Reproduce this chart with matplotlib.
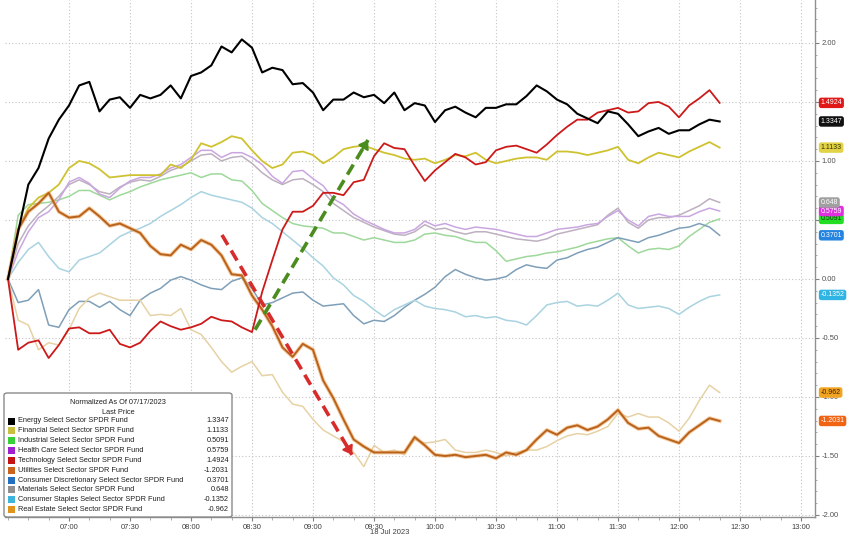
import numpy as np
import matplotlib
matplotlib.use("Agg")
import matplotlib.pyplot as plt
from matplotlib.patches import FancyBboxPatch, Rectangle
from matplotlib.ticker import FixedLocator, FuncFormatter, MultipleLocator

plt.rcParams['font.family'] = ['Liberation Sans', 'DejaVu Sans']

# ---------------- data (normalized % change, 5-minute samples from 06:30) ----------------
START_HOUR = 6.5
STEP_MIN = 5

energy = [0.00, 0.40, 0.80, 0.94, 1.19, 1.35, 1.47, 1.64, 1.67, 1.42,
          1.52, 1.54, 1.45, 1.56, 1.53, 1.56, 1.64, 1.53, 1.72, 1.75,
          1.81, 1.97, 1.92, 2.03, 1.96, 1.75, 1.79, 1.77, 1.65, 1.66,
          1.58, 1.43, 1.52, 1.52, 1.58, 1.54, 1.56, 1.49, 1.58, 1.43,
          1.49, 1.47, 1.33, 1.43, 1.46, 1.41, 1.37, 1.45, 1.45, 1.48,
          1.48, 1.55, 1.64, 1.59, 1.52, 1.48, 1.40, 1.36, 1.32, 1.42,
          1.40, 1.31, 1.21, 1.25, 1.28, 1.23, 1.26, 1.26, 1.31, 1.35, 1.3347]
financial = [0.00, 0.42, 0.60, 0.69, 0.73, 0.80, 0.94, 1.00, 0.98, 0.93,
             0.86, 0.87, 0.88, 0.88, 0.88, 0.88, 0.97, 0.94, 1.01, 1.15,
             1.12, 1.16, 1.21, 1.19, 1.09, 1.00, 0.94, 0.97, 1.07, 1.08,
             1.05, 0.98, 1.03, 1.10, 1.12, 1.13, 1.10, 1.07, 1.05, 1.02,
             1.01, 1.02, 0.98, 1.01, 1.05, 1.04, 1.07, 1.01, 0.98, 1.00,
             1.02, 1.03, 1.03, 1.01, 1.08, 1.08, 1.07, 1.05, 1.07, 1.09,
             1.12, 1.01, 0.98, 1.03, 1.07, 1.05, 1.03, 1.08, 1.12, 1.16, 1.1133]
industrial = [0.00, 0.54, 0.63, 0.64, 0.65, 0.67, 0.70, 0.75, 0.75, 0.71,
              0.67, 0.71, 0.74, 0.78, 0.81, 0.84, 0.86, 0.88, 0.90, 0.86,
              0.89, 0.89, 0.84, 0.83, 0.75, 0.64, 0.58, 0.52, 0.47, 0.45,
              0.44, 0.43, 0.39, 0.39, 0.36, 0.33, 0.35, 0.33, 0.31, 0.31,
              0.33, 0.38, 0.39, 0.37, 0.36, 0.33, 0.31, 0.31, 0.24, 0.15,
              0.17, 0.19, 0.20, 0.22, 0.23, 0.25, 0.27, 0.30, 0.32, 0.34,
              0.35, 0.28, 0.22, 0.25, 0.26, 0.25, 0.28, 0.36, 0.42, 0.48, 0.5091]
health_care = [0.00, 0.23, 0.40, 0.52, 0.57, 0.67, 0.82, 0.86, 0.81, 0.72,
               0.69, 0.77, 0.83, 0.86, 0.86, 0.89, 0.94, 0.97, 1.03, 1.09,
               1.09, 1.03, 1.07, 1.07, 1.03, 0.97, 0.87, 0.81, 0.91, 0.92,
               0.85, 0.79, 0.68, 0.63, 0.55, 0.50, 0.46, 0.42, 0.39, 0.39,
               0.42, 0.49, 0.45, 0.47, 0.44, 0.42, 0.44, 0.43, 0.42, 0.40,
               0.38, 0.36, 0.36, 0.39, 0.42, 0.43, 0.44, 0.46, 0.47, 0.53,
               0.58, 0.50, 0.45, 0.53, 0.55, 0.53, 0.53, 0.53, 0.57, 0.60, 0.5759]
technology = [0.00, -0.60, -0.54, -0.52, -0.67, -0.56, -0.42, -0.41, -0.46, -0.46,
              -0.43, -0.55, -0.58, -0.54, -0.44, -0.36, -0.40, -0.43, -0.41, -0.38,
              -0.32, -0.35, -0.36, -0.41, -0.45, -0.11, 0.16, 0.42, 0.57, 0.57,
              0.62, 0.73, 0.73, 0.71, 0.82, 0.84, 1.04, 1.15, 1.11, 1.10,
              0.96, 0.83, 0.92, 0.99, 1.06, 1.03, 0.97, 0.99, 1.09, 1.12,
              1.13, 1.10, 1.07, 1.14, 1.22, 1.29, 1.35, 1.35, 1.41, 1.43,
              1.45, 1.41, 1.42, 1.49, 1.50, 1.46, 1.37, 1.47, 1.53, 1.60, 1.4924]
utilities = [0.00, 0.42, 0.57, 0.64, 0.73, 0.57, 0.52, 0.53, 0.60, 0.53,
             0.45, 0.47, 0.43, 0.39, 0.28, 0.21, 0.20, 0.29, 0.25, 0.33,
             0.29, 0.20, 0.04, 0.03, -0.14, -0.26, -0.40, -0.58, -0.66, -0.55,
             -0.60, -0.86, -1.01, -1.19, -1.36, -1.42, -1.47, -1.47, -1.47, -1.47,
             -1.34, -1.41, -1.49, -1.50, -1.49, -1.51, -1.50, -1.49, -1.52, -1.47,
             -1.49, -1.45, -1.36, -1.28, -1.32, -1.26, -1.24, -1.28, -1.25, -1.19,
             -1.11, -1.22, -1.27, -1.26, -1.33, -1.36, -1.39, -1.30, -1.24, -1.18, -1.2031]
cons_discretionary = [0.00, -0.20, -0.18, -0.09, -0.39, -0.41, -0.26, -0.19, -0.19, -0.24,
                      -0.19, -0.26, -0.31, -0.18, -0.12, -0.08, -0.01, 0.02, -0.01, -0.05,
                      -0.08, -0.09, -0.02, 0.01, -0.08, -0.22, -0.20, -0.16, -0.12, -0.11,
                      -0.18, -0.23, -0.22, -0.21, -0.31, -0.38, -0.35, -0.36, -0.31, -0.24,
                      -0.18, -0.13, -0.07, 0.02, 0.08, 0.04, 0.01, -0.01, 0.00, 0.02,
                      0.08, 0.12, 0.10, 0.09, 0.16, 0.18, 0.22, 0.25, 0.27, 0.31,
                      0.35, 0.33, 0.31, 0.35, 0.37, 0.40, 0.43, 0.44, 0.47, 0.44, 0.3701]
materials = [0.00, 0.30, 0.45, 0.55, 0.62, 0.70, 0.80, 0.84, 0.80, 0.74,
             0.72, 0.78, 0.82, 0.84, 0.83, 0.87, 0.92, 0.95, 1.00, 1.05,
             1.06, 1.00, 1.03, 1.04, 0.98, 0.90, 0.84, 0.80, 0.84, 0.85,
             0.80, 0.74, 0.64, 0.58, 0.52, 0.48, 0.44, 0.41, 0.38, 0.37,
             0.40, 0.46, 0.42, 0.43, 0.40, 0.38, 0.40, 0.40, 0.38, 0.36,
             0.34, 0.33, 0.32, 0.34, 0.38, 0.40, 0.42, 0.44, 0.46, 0.54,
             0.60, 0.48, 0.43, 0.50, 0.52, 0.52, 0.54, 0.58, 0.62, 0.68, 0.648]
cons_staples = [0.00, 0.14, 0.25, 0.31, 0.19, 0.09, 0.06, 0.16, 0.19, 0.22,
                0.29, 0.36, 0.40, 0.43, 0.47, 0.53, 0.58, 0.63, 0.69, 0.74,
                0.71, 0.69, 0.67, 0.65, 0.60, 0.52, 0.47, 0.40, 0.33, 0.26,
                0.18, 0.11, 0.01, -0.05, -0.14, -0.19, -0.26, -0.32, -0.26, -0.22,
                -0.18, -0.23, -0.25, -0.26, -0.28, -0.32, -0.31, -0.33, -0.32, -0.35,
                -0.36, -0.39, -0.31, -0.22, -0.20, -0.19, -0.23, -0.22, -0.23, -0.18,
                -0.12, -0.22, -0.25, -0.24, -0.23, -0.25, -0.30, -0.24, -0.19, -0.15, -0.1352]
real_estate = [0.00, -0.35, -0.39, -0.60, -0.54, -0.56, -0.43, -0.25, -0.16, -0.12,
               -0.15, -0.18, -0.18, -0.18, -0.31, -0.30, -0.31, -0.25, -0.43, -0.47,
               -0.58, -0.70, -0.79, -0.74, -0.70, -0.82, -0.81, -0.96, -1.06, -1.08,
               -1.19, -1.28, -1.33, -1.38, -1.47, -1.59, -1.41, -1.47, -1.45, -1.49,
               -1.36, -1.39, -1.38, -1.36, -1.45, -1.47, -1.47, -1.45, -1.47, -1.50,
               -1.47, -1.45, -1.45, -1.42, -1.37, -1.33, -1.31, -1.32, -1.29, -1.25,
               -1.14, -1.17, -1.14, -1.17, -1.17, -1.22, -1.29, -1.18, -1.03, -0.90, -0.962]

names = ["Energy Select Sector SPDR Fund", "Financial Select Sector SPDR Fund",
         "Industrial Select Sector SPDR Fund", "Health Care Select Sector SPDR Fund",
         "Technology Select Sector SPDR Fund", "Utilities Select Sector SPDR Fund",
         "Consumer Discretionary Select Sector SPDR Fund", "Materials Select Sector SPDR Fund",
         "Consumer Staples Select Sector SPDR Fund", "Real Estate Select Sector SPDR Fund"]
last_labels = ["1.3347", "1.1133", "0.5091", "0.5759", "1.4924", "-1.2031",
               "0.3701", "0.648", "-0.1352", "-0.962"]
series = [energy, financial, industrial, health_care, technology, utilities,
          cons_discretionary, materials, cons_staples, real_estate]
# right-axis labels hidden behind last-price tags in the original
hidden_ticks = [1.5, 0.5]

# styles
line_colors = ["#000000", "#cfc230", "#9ed89a", "#caa6e0", "#cc1a1a", "#b8621c",
               "#7f9fb8", "#bdb0bf", "#a9d3e0", "#e6d2a4"]
line_widths = [1.5, 1.3, 1.1, 1.1, 1.3, 1.4, 1.1, 1.1, 1.1, 1.1]
z_order = [10, 7, 3, 4, 9, 8, 3, 3, 3, 5]
legend_colors = ["#000000", "#c9c040", "#38d038", "#a020d0", "#c41414", "#c8641e",
                 "#2470c0", "#909090", "#3cb4dc", "#e0941e"]
tag_colors = ["#111111", "#e2d246", "#22dd22", "#e030e0", "#e01818", "#f06414",
              "#2484e0", "#a0a0a0", "#30b4e4", "#f0a422"]
tag_text_colors = ["white", "#333300", "#104010", "white", "white", "white",
                   "white", "white", "white", "#402000"]

W, H = 848, 539
fig = plt.figure(figsize=(W / 100, H / 100), dpi=100)
ax = fig.add_axes([5 / W, 22 / H, 810 / W, 517 / H])

n = len(energy)
t = START_HOUR + np.arange(n) * STEP_MIN / 60.0

for i, s in enumerate(series):
    if i == 5:
        ax.plot(t, s, color="#f0a050", lw=2.8, alpha=0.55, zorder=z_order[i] - 0.5,
                solid_joinstyle="round")
    ax.plot(t, s, color=line_colors[i], lw=line_widths[i], zorder=z_order[i],
            solid_joinstyle="round")

ax.set_xlim(6.4754, 13.115)
ax.set_ylim(-2.017, 2.364)

# grid
ax.grid(True, color="#c4c4c4", lw=0.8, linestyle=(0, (1, 2)))
ax.set_axisbelow(True)

# x axis
xt = [7 + 0.5 * k for k in range(13)]
ax.xaxis.set_major_locator(FixedLocator(xt))
ax.xaxis.set_minor_locator(MultipleLocator(1 / 6))
ax.xaxis.set_major_formatter(FuncFormatter(lambda v, p: f"{int(v):02d}:{int(round((v % 1) * 60)):02d}"))
ax.tick_params(axis="x", which="major", labelsize=5.5, labelcolor="#404040", length=3,
               color="#808080", pad=2)
ax.tick_params(axis="x", which="minor", length=2, color="#a0a0a0")


def yfmt(v, p):
    if any(abs(v - h) < 1e-6 for h in hidden_ticks):
        return ""
    return f"{v:.2f}"


# y axis on right
ax.yaxis.tick_right()
ax.yaxis.set_major_locator(MultipleLocator(0.5))
ax.yaxis.set_minor_locator(MultipleLocator(0.1))
ax.yaxis.set_major_formatter(FuncFormatter(yfmt))
ax.tick_params(axis="y", which="major", labelsize=5.5, labelcolor="#505050", length=3,
               color="#808080", pad=2)
ax.tick_params(axis="y", which="minor", length=1.5, color="#a0a0a0")

for side in ["top", "left"]:
    ax.spines[side].set_visible(False)
for side in ["right", "bottom"]:
    ax.spines[side].set_color("#909090")
    ax.spines[side].set_linewidth(1.0)

fig.text(390 / W, 1 - 533 / H, "18 Jul 2023", fontsize=5.5, color="#404040",
         ha="center", va="center")

# last-price tags on the right
for i, s in enumerate(series):
    ax.annotate(last_labels[i], xy=(1.0, s[-1]), xycoords=("axes fraction", "data"),
                xytext=(4, 0), textcoords="offset points", ha="left", va="center",
                fontsize=5, color=tag_text_colors[i], annotation_clip=False, zorder=20,
                bbox=dict(boxstyle="round,pad=0.25,rounding_size=0.35", fc=tag_colors[i],
                          ec="none"))

# dashed arrows (annotation)
RED_ARROW = ((8.254, 0.373), (9.32, -1.49))
GREEN_ARROW = ((8.525, -0.43), (9.451, 1.178))
for (p0, p1), col in [(RED_ARROW, "#d82c2c"), (GREEN_ARROW, "#4a8c1e")]:
    ax.plot([p0[0], p1[0]], [p0[1], p1[1]], color=col, lw=2.6,
            linestyle=(0, (3.2, 1.8)), zorder=15, solid_capstyle="butt")
    dx, dy = p1[0] - p0[0], p1[1] - p0[1]
    ax.annotate("", xy=p1, xytext=(p1[0] - 0.06 * dx, p1[1] - 0.06 * dy),
                arrowprops=dict(arrowstyle="-|>,head_length=0.5,head_width=0.35",
                                color=col, lw=1.5, shrinkA=0, shrinkB=0), zorder=16)


# legend box
def fx(x):
    return x / W


def fy(y):
    return 1 - y / H


box = FancyBboxPatch((fx(4), fy(517)), fx(232) - fx(4), fy(393) - fy(517),
                     boxstyle="round,pad=0,rounding_size=0.004", transform=fig.transFigure,
                     fc="white", ec="#8a8a8a", lw=1.0, zorder=30)
fig.patches.append(box)
fig.text(fx(118), fy(403), "Normalized As Of 07/17/2023", fontsize=5.3, ha="center",
         va="center", color="#202020", zorder=31)
fig.text(fx(118), fy(412), "Last Price", fontsize=5.3, ha="center", va="center",
         color="#202020", zorder=31)
for i, nm in enumerate(names):
    yy = 421 + i * 9.85
    sq = Rectangle((fx(8), fy(yy + 3.5)), fx(7), 7 / H, transform=fig.transFigure,
                   fc=legend_colors[i], ec="none", zorder=31)
    fig.patches.append(sq)
    fig.text(fx(18), fy(yy), nm, fontsize=5.3, ha="left", va="center", color="#202020",
             zorder=31)
    fig.text(fx(229), fy(yy), last_labels[i], fontsize=5.3, ha="right", va="center",
             color="#202020", zorder=31)

fig.savefig("out.png", dpi=100)
